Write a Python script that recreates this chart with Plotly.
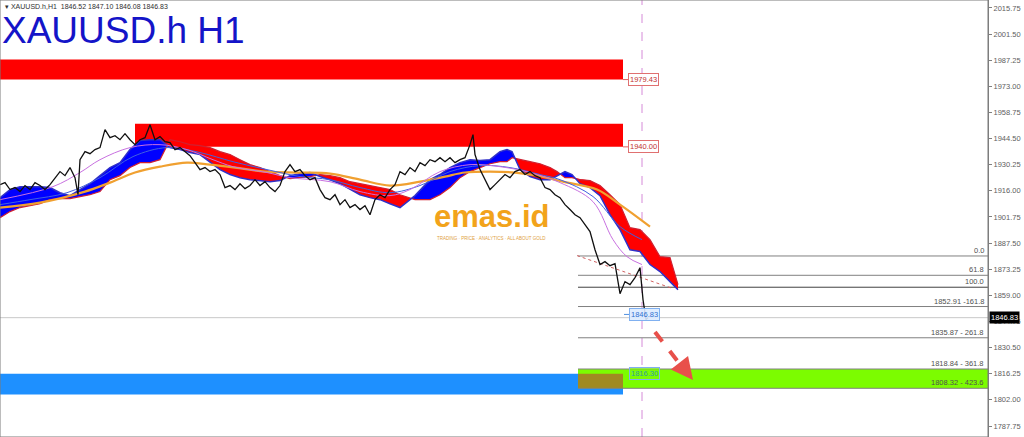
import plotly.graph_objects as go

# ---------------- data (bar index, price) ----------------
bar_x = [0, 5, 10, 15, 20, 25, 30, 35, 40, 45, 50, 55, 60, 65, 70, 75, 78, 80, 85, 90,
         95, 100, 105, 110, 115, 120, 125, 130, 135, 140, 145, 150, 155, 160, 165, 170, 175, 180, 185, 190,
         195, 200, 205, 210, 215, 220, 225, 230, 235, 240, 245, 250, 255, 260, 265, 270, 275, 280, 285, 290,
         295, 300, 305, 310, 315, 320, 325, 330, 335, 340, 345, 350, 355, 360, 365, 370, 375, 380, 385, 390,
         395, 400, 405, 410, 415, 420, 425, 430, 435, 440, 445, 450, 455, 460, 465, 470, 473, 475, 480, 485,
         490, 495, 500, 505, 510, 515, 520, 525, 530, 535, 540, 545, 550, 555, 560, 565, 570, 575, 580, 585,
         590, 595, 600, 605, 610, 615, 618, 620, 625, 630, 635, 640, 643, 646, 648]
close = [1919.4, 1920.5, 1916.7, 1917.8, 1915.6, 1918.9, 1916.7, 1920.5, 1918.9, 1916.7,
         1919.4, 1923.2, 1926.5, 1924.3, 1928.7, 1923.2, 1913.9, 1933.0, 1937.4, 1936.3,
         1938.5, 1939.6, 1949.4, 1945.0, 1946.1, 1943.9, 1947.2, 1943.9, 1941.2, 1943.9,
         1945.0, 1952.1, 1943.9, 1945.6, 1942.8, 1942.3, 1938.5, 1939.6, 1937.4, 1935.2,
         1931.4, 1927.6, 1928.7, 1926.5, 1927.6, 1924.9, 1917.8, 1918.9, 1916.7, 1919.9,
         1917.2, 1918.9, 1922.1, 1918.9, 1921.0, 1917.8, 1915.6, 1918.9, 1926.5, 1930.3,
         1926.5, 1927.6, 1924.3, 1922.1, 1923.2, 1916.7, 1912.3, 1911.2, 1913.9, 1908.5,
         1911.2, 1906.9, 1908.5, 1905.8, 1907.9, 1903.0, 1911.2, 1913.9, 1912.3, 1916.7,
         1919.4, 1926.5, 1924.9, 1928.7, 1926.5, 1931.4, 1929.8, 1933.0, 1931.9, 1934.1,
         1931.9, 1934.1, 1931.4, 1933.0, 1934.1, 1941.2, 1946.7, 1935.8, 1927.6, 1922.1,
         1916.7, 1919.4, 1922.1, 1924.9, 1923.2, 1926.5, 1927.6, 1924.9, 1926.5, 1924.3,
         1923.2, 1917.8, 1916.7, 1913.9, 1912.3, 1908.5, 1905.8, 1903.0, 1901.4, 1897.6,
         1893.8, 1883.9, 1875.8, 1877.4, 1875.2, 1876.3, 1864.9, 1859.9, 1866.5, 1864.9,
         1868.7, 1874.1, 1856.7, 1845.8, 1846.8]

cloud_x = [0, 10, 20, 30, 40, 50, 60, 70, 80, 90, 100, 110, 120, 130, 140, 150, 160,
           170, 180, 190, 200, 210, 220, 230, 240, 250, 260, 270, 280,
           290, 300, 310,
           320, 330, 340, 350, 360, 370, 380, 390, 400,
           415, 430, 440, 450, 460, 470, 480, 490, 500, 507, 512,
           520, 530, 540, 550, 557,
           565, 572,
           580, 590, 600, 610, 620, 630, 640, 650, 660, 670, 678]
span_a = [1912.3, 1916.7, 1918.3, 1918.3, 1918.3, 1917.8, 1915.0, 1913.4, 1916.7, 1919.9, 1924.3, 1928.7, 1931.4, 1938.5, 1943.4, 1943.9, 1943.9,
          1939.6, 1938.5, 1936.9, 1935.8, 1931.9, 1927.6, 1924.9, 1923.2, 1922.1, 1921.6, 1921.0, 1921.6,
          1924.3, 1925.4, 1926.0,
          1923.8, 1922.1, 1919.9, 1916.7, 1913.9, 1912.3, 1911.2, 1909.0, 1906.9,
          1913.4, 1922.1, 1924.9, 1928.7, 1931.4, 1933.0, 1932.5, 1933.0, 1937.4, 1938.5, 1937.4,
          1927.6, 1923.8, 1922.1, 1922.1, 1924.3,
          1926.5, 1924.9,
          1919.9, 1917.8, 1913.4, 1903.0, 1894.9, 1883.9, 1882.9, 1875.8, 1872.0, 1866.5, 1862.1]
span_b = [1901.4, 1904.7, 1906.9, 1907.9, 1909.0, 1911.2, 1911.8, 1911.8, 1912.9, 1913.9, 1915.6, 1922.1, 1924.3, 1928.7, 1931.4, 1931.4, 1933.0,
          1943.9, 1942.8, 1941.2, 1940.7, 1939.6, 1937.4, 1935.8, 1933.0, 1930.3, 1928.7, 1926.5, 1924.3,
          1922.7, 1923.2, 1923.8,
          1924.9, 1924.3, 1923.2, 1921.0, 1919.9, 1918.9, 1917.8, 1916.7, 1913.9,
          1911.2, 1911.2, 1913.9, 1917.8, 1923.2, 1926.5, 1928.7, 1930.8, 1931.9, 1931.9, 1934.1,
          1933.0, 1931.9, 1930.8, 1928.7, 1926.5,
          1923.2, 1923.2,
          1922.1, 1921.6, 1918.9, 1913.9, 1908.5, 1895.9, 1894.9, 1889.4, 1880.1, 1879.6, 1864.9]

ma_slow_x = [0, 40, 85, 110, 135, 160, 187, 210, 235, 265, 300, 330, 360, 390, 420, 445, 465, 490, 515, 537, 563, 597, 620, 650]
ma_slow = [1906.9, 1909.6, 1915.6, 1920.5, 1926.0, 1929.2, 1931.4, 1930.3, 1928.7, 1926.5, 1926.0, 1925.4,
           1922.1, 1918.9, 1921.0, 1923.8, 1926.0, 1926.5, 1926.0, 1924.3, 1921.0, 1916.7, 1908.5, 1896.5]

ma_mid_x = [0, 30, 67, 100, 133, 167, 200, 233, 267, 300, 330, 360, 390, 420, 450, 480, 510, 540, 560, 593, 620, 642]
ma_mid = [1908.5, 1911.2, 1915.0, 1923.2, 1934.7, 1939.6, 1936.9, 1931.9, 1927.6, 1923.8, 1922.1,
          1917.8, 1915.0, 1918.9, 1926.5, 1929.8, 1928.7, 1924.9, 1922.1, 1912.9, 1896.5, 1889.4]

ma_fast_x = [0, 53, 80, 100, 130, 160, 187, 213, 233, 267, 290, 330, 360, 390, 410, 440, 470, 500, 530, 560, 593, 613, 627, 642]
ma_fast = [1911.2, 1918.3, 1926.0, 1933.0, 1939.6, 1941.2, 1938.5, 1933.0, 1929.2, 1926.0, 1923.2, 1921.0,
           1915.6, 1913.4, 1916.7, 1926.5, 1930.3, 1929.2, 1926.0, 1920.5, 1910.1, 1889.4, 1880.1, 1875.8]

trend_x = [577, 673]
trend_y = [1880.7, 1862.7]

# zones: (x0, x1, low, high)
zone_red1 = (0, 623, 1976.7, 1987.6)
zone_red2 = (135, 623, 1940.0, 1952.6)
zone_blue = (0, 623, 1804.9, 1816.3)
zone_green = (578, 988, 1808.32, 1818.84)

fib_levels = [1880.48, 1869.95, 1863.44, 1852.91, 1835.87, 1818.84, 1808.32]
fib_labels = ["0.0", "61.8", "100.0", "1852.91 -161.8", "1835.87 - 261.8", "1818.84 - 361.8", "1808.32 - 423.6"]

last_price = 1846.83
cursor_bar = 642

tick_vals = [1787.75, 1802.00, 1816.25, 1830.50, 1844.75, 1859.00, 1873.25, 1887.50, 1901.75,
             1916.00, 1930.25, 1944.50, 1958.75, 1973.00, 1987.25, 2001.50, 2015.75]
tick_text = ["%.2f" % v for v in tick_vals]

FONT = "Liberation Sans"

fig = go.Figure()

# ---------------- zones (shapes below traces) ----------------
shapes = []
def rect(z, color):
    shapes.append(dict(type="rect", xref="x", yref="y", x0=z[0], x1=z[1], y0=z[2], y1=z[3],
                       fillcolor=color, line=dict(width=0), layer="below"))

rect(zone_red1, "#ff0000")
rect(zone_red2, "#ff0000")
rect(zone_blue, "#1e90ff")
rect(zone_green, "#7cfc00")
ov = (max(zone_blue[0], zone_green[0]), min(zone_blue[1], zone_green[1]),
      max(zone_blue[2], zone_green[2]), min(zone_blue[3], zone_green[3]))
rect(ov, "#a08a22")

# fib lines
for i, lv in enumerate(fib_levels):
    shapes.append(dict(type="line", xref="x", yref="y", x0=zone_green[0], x1=988, y0=lv, y1=lv,
                       line=dict(color="#404040" if i == 2 else "#808080", width=1), layer="below"))
# current price line
shapes.append(dict(type="line", xref="x", yref="y", x0=0, x1=988, y0=last_price, y1=last_price,
                   line=dict(color="#c8c8c8", width=1), layer="below"))
# vertical cursor line
shapes.append(dict(type="line", xref="x", yref="paper", x0=cursor_bar, x1=cursor_bar, y0=0, y1=1,
                   line=dict(color="#d58ad8", width=1, dash="dash"), layer="below"))
# small connectors to labels
for lv in (1976.7, 1940.0):
    shapes.append(dict(type="line", xref="x", yref="y", x0=623, x1=628, y0=lv, y1=lv,
                       line=dict(color="#e06060", width=1)))
shapes.append(dict(type="line", xref="x", yref="y", x0=624, x1=629, y0=1848.6, y1=1848.6,
                   line=dict(color="#5090e0", width=1)))
# red dashed arrow shaft
shapes.append(dict(type="line", xref="x", yref="y", x0=655, x1=687, y0=1839.0, y1=1816.5,
                   line=dict(color="#e8504a", width=4, dash="dash")))
# plot border
shapes.append(dict(type="rect", xref="paper", yref="paper", x0=0, x1=1, y0=0, y1=1,
                   line=dict(color="#7a7a7a", width=1), fillcolor="rgba(0,0,0,0)"))

# ---------------- ichimoku cloud ----------------
def split_cloud(xs, a, b):
    segs = []
    cur = {"x": [xs[0]], "a": [a[0]], "b": [b[0]], "up": a[0] >= b[0]}
    for i in range(1, len(xs)):
        up = a[i] >= b[i]
        if up != cur["up"]:
            d0 = a[i - 1] - b[i - 1]
            d1 = a[i] - b[i]
            t = d0 / (d0 - d1)
            xc = xs[i - 1] + t * (xs[i] - xs[i - 1])
            yc = a[i - 1] + t * (a[i] - a[i - 1])
            cur["x"].append(xc); cur["a"].append(yc); cur["b"].append(yc)
            segs.append(cur)
            cur = {"x": [xc], "a": [yc], "b": [yc], "up": up}
        cur["x"].append(xs[i]); cur["a"].append(a[i]); cur["b"].append(b[i])
    segs.append(cur)
    return segs

for s in split_cloud(cloud_x, span_a, span_b):
    col = "#0000ff" if s["up"] else "#ff0000"
    fig.add_trace(go.Scatter(x=s["x"] + s["x"][::-1], y=s["a"] + s["b"][::-1], fill="toself",
                             fillcolor=col, line=dict(width=0), mode="lines", hoverinfo="skip",
                             showlegend=False))

fig.add_trace(go.Scatter(x=cloud_x, y=span_b, mode="lines", line=dict(color="#d02030", width=1.2),
                         showlegend=False, hoverinfo="skip"))
fig.add_trace(go.Scatter(x=cloud_x, y=span_a, mode="lines", line=dict(color="#3030c8", width=1.5),
                         showlegend=False, hoverinfo="skip"))

# moving averages
fig.add_trace(go.Scatter(x=ma_slow_x, y=ma_slow, mode="lines", line=dict(color="#f0a030", width=2.2, shape="spline"),
                         showlegend=False))
fig.add_trace(go.Scatter(x=ma_mid_x, y=ma_mid, mode="lines", line=dict(color="#4060e0", width=1, shape="spline"),
                         showlegend=False))
fig.add_trace(go.Scatter(x=ma_fast_x, y=ma_fast, mode="lines", line=dict(color="#c870e0", width=1, shape="spline"),
                         showlegend=False))
# trend line
fig.add_trace(go.Scatter(x=trend_x, y=trend_y, mode="lines", line=dict(color="#d06060", width=1, dash="dot"),
                         showlegend=False))
# price
fig.add_trace(go.Scatter(x=bar_x, y=close, mode="lines", line=dict(color="#101010", width=1.3),
                         showlegend=False))

# ---------------- annotations ----------------
ann = []
ann.append(dict(xref="paper", yref="paper", x=0.003, y=0.998, xanchor="left", yanchor="top",
                text="▾ XAUUSD.h,H1  1846.52 1847.10 1846.08 1846.83", showarrow=False,
                font=dict(family=FONT, size=7, color="#303030")))
ann.append(dict(xref="paper", yref="paper", x=0.0, y=0.93, xanchor="left", yanchor="middle",
                text="XAUUSD.h H1", showarrow=False,
                font=dict(family=FONT, size=37, color="#1414c8")))
# logo
ann.append(dict(xref="paper", yref="paper", x=0.497, y=0.505, xanchor="center", yanchor="middle",
                text="<b>emas.id</b>", showarrow=False,
                font=dict(family=FONT, size=31, color="#f2a31b")))
ann.append(dict(xref="paper", yref="paper", x=0.497, y=0.455, xanchor="center", yanchor="middle",
                text="TRADING · PRICE · ANALYTICS · ALL ABOUT GOLD", showarrow=False,
                font=dict(family=FONT, size=4.5, color="#e0a040")))
# fib labels
for lv, lab in zip(fib_levels, fib_labels):
    ann.append(dict(xref="x", yref="y", x=986, y=lv, xanchor="right", yanchor="bottom",
                    text=lab, showarrow=False, yshift=-1,
                    font=dict(family=FONT, size=7.5, color="#505050")))
# price boxes
def box(x, y, text, fc, bc, bg="#ffffff"):
    ann.append(dict(xref="x", yref="y", x=x, y=y, xanchor="left", yanchor="middle", text=text,
                    showarrow=False, bordercolor=bc, borderwidth=1, borderpad=1, bgcolor=bg,
                    font=dict(family=FONT, size=7.5, color=fc)))
box(628, 1976.7, "1979.43", "#c03030", "#e07070")
box(628, 1940.0, "1940.00", "#c03030", "#e07070")
box(629, 1848.6, "1846.83", "#3070d0", "#80b0f0", "rgba(220,235,255,0.9)")
box(629, 1816.3, "1816.30", "#30a0a0", "#80b0f0", "rgba(124,252,0,0.6)")
# axis price tag
ann.append(dict(xref="paper", yref="y", x=1.0, y=last_price, xanchor="left", yanchor="middle",
                text="1846.83", showarrow=False, bgcolor="#000000", borderpad=1, xshift=1,
                font=dict(family=FONT, size=7.5, color="#ffffff")))
# arrow head
ann.append(dict(xref="x", yref="y", x=693, y=1812.8, ax=-11, ay=-14, text="", showarrow=True,
                arrowhead=2, arrowsize=1.1, arrowwidth=4, arrowcolor="#e8504a"))

fig.update_layout(
    width=1024, height=437,
    margin=dict(l=0, r=36, t=0, b=0),
    paper_bgcolor="#ffffff", plot_bgcolor="#ffffff",
    shapes=shapes, annotations=ann, showlegend=False,
    xaxis=dict(range=[0, 988], visible=False, fixedrange=True),
    yaxis=dict(range=[1781.75, 2020.1], side="right", tickvals=tick_vals, ticktext=tick_text,
               showgrid=False, zeroline=False, showline=True, linecolor="#808080", linewidth=1,
               ticks="outside", ticklen=3, tickcolor="#808080", automargin=False,
               tickfont=dict(family=FONT, size=7.5, color="#606060")),
)

fig.write_html("out.html", config={"displayModeBar": False},
               post_script="document.body.style.margin='0';document.body.style.overflow='hidden';")
